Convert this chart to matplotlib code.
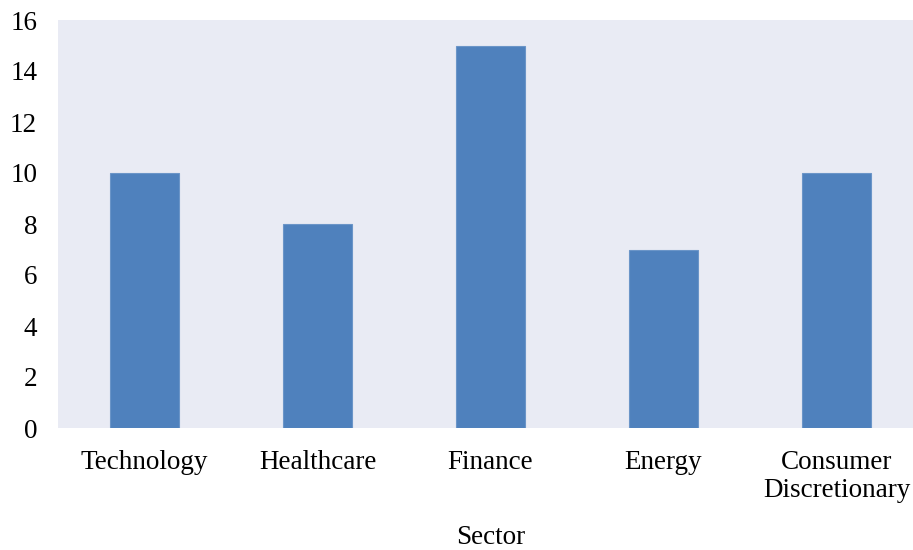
import matplotlib
matplotlib.use("Agg")
import matplotlib.pyplot as plt

sectors = ["Technology", "Healthcare", "Finance", "Energy", "Consumer\nDiscretionary"]
values = [10, 8, 15, 7, 10]
yticks = [0, 2, 4, 6, 8, 10, 12, 14, 16]

plt.rcParams['font.family'] = ['Liberation Serif', 'DejaVu Serif']

W, H = 913, 550
fig = plt.figure(figsize=(W / 100, H / 100), dpi=100)
left, right, top, bottom = 58, 923, 20, 428
ax = fig.add_axes([left / W, (H - bottom) / H, (right - left) / W, (bottom - top) / H])
ax.set_facecolor('#E9EBF4')
x = list(range(len(sectors)))
ax.bar(x, values, width=0.4, color='#4F81BD', edgecolor='#6B95C8', linewidth=0.8)
ax.set_xlim(-0.5, len(sectors) - 0.5)
ax.set_ylim(0, 16)
ax.set_yticks(yticks)
ax.set_yticklabels([str(t) for t in yticks], fontsize=19.5)
ax.set_xticks(x)
ax.set_xticklabels(sectors, fontsize=19.5, linespacing=1.12)
ax.tick_params(length=0)
ax.tick_params(axis='x', pad=16)
ax.tick_params(axis='y', pad=15)
for s in ax.spines.values():
    s.set_visible(False)
ax.set_xlabel("Sector", fontsize=19.5, labelpad=16)
fig.savefig("out.png", dpi=100)
